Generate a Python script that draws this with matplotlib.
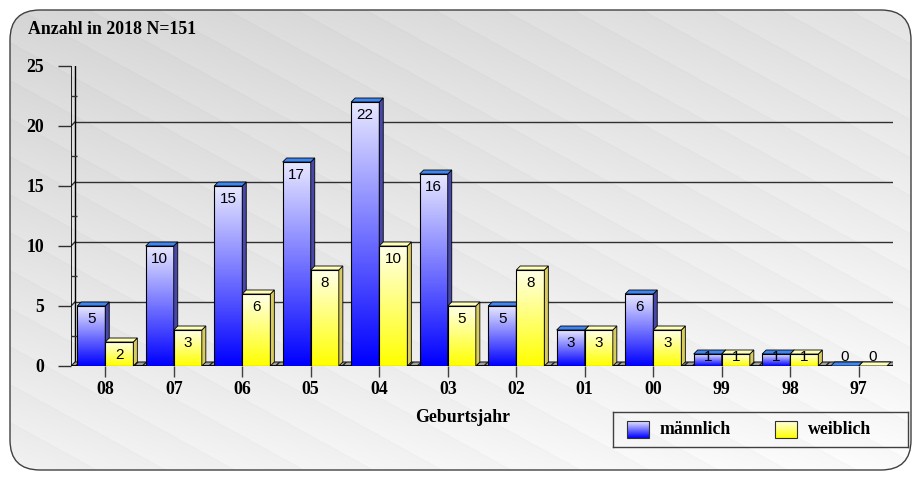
import numpy as np
import matplotlib
matplotlib.use('Agg')
import matplotlib.pyplot as plt
from matplotlib.patches import Polygon, Rectangle, FancyBboxPatch
from matplotlib.colors import LinearSegmentedColormap

# data
years = ['08', '07', '06', '05', '04', '03', '02', '01', '00', '99', '98', '97']
maennlich = [5, 10, 15, 17, 22, 16, 5, 3, 6, 1, 1, 0]
weiblich = [2, 3, 6, 8, 10, 5, 8, 3, 3, 1, 1, 0]
yticks = [0, 5, 10, 15, 20, 25]

W, H = 923, 479
fig = plt.figure(figsize=(W / 100, H / 100), dpi=100, facecolor='white')

# background with rounded frame
bg = fig.add_axes([0, 0, 1, 1])
bg.set_xlim(0, W)
bg.set_ylim(H, 0)
bg.axis('off')
xx, yy = np.meshgrid(np.arange(W), np.arange(H))
val = 0.83 + 0.10 * (yy / H) + 0.05 * (xx / W)
c = (yy - 0.55 * xx) % 38
val = val + 0.02 * (c / 38) - 0.025 * (c > 36)
img = np.clip(np.dstack([val, val, val]), 0, 1)
im = bg.imshow(img, extent=(0, W, H, 0), interpolation='bilinear')
frame = FancyBboxPatch((10, 10), W - 22, H - 19, boxstyle='round,pad=0,rounding_size=30',
                       facecolor='none', edgecolor='#404040', lw=1.0)
bg.add_patch(frame)
im.set_clip_path(frame)

fig.text(28 / W, 1 - 30 / H, 'Anzahl in 2018 N=151', fontfamily='Liberation Serif',
         fontweight='bold', fontsize=12.8, ha='left', va='center')
fig.text(463 / W, 1 - 418 / H, 'Geburtsjahr', fontfamily='Liberation Serif',
         fontweight='bold', fontsize=12.8, ha='center', va='center')

# main axes (front plane)
ax = fig.add_axes([71 / W, 113 / H, 822 / W, 300 / H])
ax.patch.set_alpha(0)
for s in ax.spines.values():
    s.set_visible(False)
n = len(years)
xmin, xmax = -0.5, n - 0.5
ddx = 4 / 68.5
ddy = 4 / 12.0

# floor
ax.add_patch(Polygon([(xmin, 0), (xmax, 0), (xmax + ddx, ddy), (xmin + ddx, ddy)],
                     closed=True, facecolor='#a0a0a0', edgecolor='#202020', lw=0.8,
                     hatch='////', zorder=1))
# back wall grid and frame
for y in yticks[1:]:
    ax.plot([xmin + ddx, xmax + ddx], [y + ddy, y + ddy], color='#303030', lw=1, zorder=0.5)
    ax.plot([xmin, xmin + ddx], [y, y + ddy], color='#303030', lw=1, zorder=0.5)
ax.plot([xmin + ddx, xmin + ddx], [ddy, 25 + ddy], color='black', lw=1, zorder=0.5)
ax.plot([xmax + ddx, xmax + ddx], [ddy, 25 + ddy], color='black', lw=1, zorder=0.5)
ax.plot([xmin, xmin], [0, 25], color='black', lw=1.2, zorder=0.6)
ax.plot([xmin, xmax], [0, 0], color='black', lw=1.2, zorder=1.2)

blue_cm = LinearSegmentedColormap.from_list('b', ['#0000ff', '#e6e6ff'])
yel_cm = LinearSegmentedColormap.from_list('y', ['#ffff00', '#ffffe6'])
grad = np.linspace(0, 1, 64).reshape(-1, 1)

w = 0.41
z = 2
for i in range(n):
    for x0, h, cm, topc, sidec in [
        (i - w, maennlich[i], blue_cm, '#3f86f0', '#4848a8'),
        (i, weiblich[i], yel_cm, '#ffffb8', '#d8cc60'),
    ]:
        x1 = x0 + w
        if h > 0:
            ax.imshow(grad, extent=(x0, x1, 0, h), origin='lower', cmap=cm, aspect='auto',
                      interpolation='bilinear', zorder=z)
            ax.add_patch(Rectangle((x0, 0), w, h, facecolor='none', edgecolor='black',
                                   lw=0.8, zorder=z + 0.1))
            ax.add_patch(Polygon([(x1, 0), (x1 + ddx, ddy), (x1 + ddx, h + ddy), (x1, h)],
                                 closed=True, facecolor=sidec, edgecolor='black', lw=0.6,
                                 zorder=z + 0.1))
        ax.add_patch(Polygon([(x0, h), (x1, h), (x1 + ddx, h + ddy), (x0 + ddx, h + ddy)],
                             closed=True, facecolor=topc, edgecolor='black', lw=0.6,
                             zorder=z + 0.2))
        ax.text(x0 + w / 2, max(h - 0.5, 1.35), str(h), ha='center', va='top',
                fontfamily='Liberation Sans', fontsize=11, zorder=z + 0.3)
        z += 1

ax.set_xlim(xmin, xmax)
ax.set_ylim(0, 25)
ax.set_xticks(range(n))
ax.set_xticklabels(years)
ax.set_yticks(yticks)
ax.set_yticks(np.arange(2.5, 25, 5), minor=True)
ax.tick_params(axis='x', direction='out', length=8, width=1, color='#404040', pad=3)
ax.tick_params(axis='y', which='major', direction='out', length=9.5, width=1,
               color='#303030', pad=10)
ax.tick_params(axis='y', which='minor', direction='in', length=4.5, width=1, color='#303030')
for lab in ax.get_xticklabels() + ax.get_yticklabels():
    lab.set_fontfamily('Liberation Serif')
    lab.set_fontweight('bold')
    lab.set_fontsize(12.8)

# legend
lg = fig.add_axes([613 / W, 32 / H, 295 / W, 35 / H])
lg.set_xlim(0, 295)
lg.set_ylim(0, 35)
lg.patch.set_alpha(0)
lg.set_xticks([])
lg.set_yticks([])
for s in lg.spines.values():
    s.set_color('#404040')
    s.set_linewidth(1)
for lx, cm, label in [(14, blue_cm, 'männlich'), (162, yel_cm, 'weiblich')]:
    lg.imshow(grad, extent=(lx, lx + 22, 9, 26), origin='lower', cmap=cm, aspect='auto')
    lg.add_patch(Rectangle((lx, 9), 22, 17, facecolor='none', edgecolor='#303030', lw=0.8))
    lg.text(lx + 33, 17, label, fontfamily='Liberation Serif', fontweight='bold',
            fontsize=12.8, va='center', ha='left')
lg.set_xlim(0, 295)
lg.set_ylim(0, 35)

fig.savefig('out.png', dpi=100)
